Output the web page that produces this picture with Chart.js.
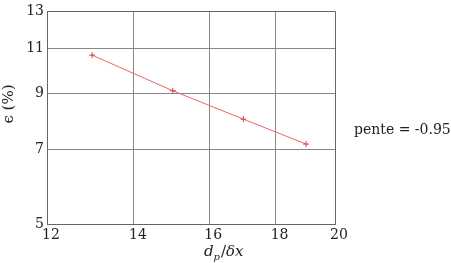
<!DOCTYPE html>
<html>
<head>
<meta charset="utf-8">
<script src="https://cdn.jsdelivr.net/npm/chart.js@4/dist/chart.umd.min.js"></script>
<style>
html,body{margin:0;padding:0;background:#fff;}
#wrap{width:451px;height:263px;position:relative;}
</style>
</head>
<body>
<div id="wrap"><canvas id="c" width="451" height="263"></canvas></div>
<script>
const xValues = [13, 15, 17, 19];
const yValues = [10.68, 9.10, 8.01, 7.16];
const xTicks = [12, 14, 16, 18, 20];
const yTicks = [5, 7, 9, 11, 13];
const xTitle = ['d', 'p', '/', 'δx'];
const yTitle = 'ϵ (%)';
const slopeText = 'pente = -0.95';

const FONT = 'DejaVu Serif';

const textPlugin = {
  id: 'texts',
  afterDraw(chart) {
    const ctx = chart.ctx;
    ctx.save();
    ctx.fillStyle = '#222';
    ctx.font = '14px "DejaVu Serif"';
    ctx.textAlign = 'left';
    ctx.textBaseline = 'alphabetic';
    ctx.fillText(slopeText, 354, 134);
    let x = 204, base = 256;
    ctx.font = 'italic 15px "DejaVu Serif"';
    ctx.fillText(xTitle[0], x, base); x += ctx.measureText(xTitle[0]).width;
    ctx.font = 'italic 10px "DejaVu Serif"';
    ctx.fillText(xTitle[1], x, base + 4); x += ctx.measureText(xTitle[1]).width + 1;
    ctx.font = '15px "DejaVu Serif"';
    ctx.fillText(xTitle[2], x, base); x += ctx.measureText(xTitle[2]).width;
    ctx.font = 'italic 15px "DejaVu Serif"';
    ctx.fillText(xTitle[3], x, base);
    ctx.translate(9, 104);
    ctx.rotate(-Math.PI / 2);
    ctx.font = '15px "DejaVu Serif"';
    ctx.textAlign = 'center';
    ctx.textBaseline = 'middle';
    ctx.fillText(yTitle, 0, 0);
    ctx.restore();
  }
};

new Chart(document.getElementById('c'), {
  type: 'line',
  data: {
    datasets: [{
      data: xValues.map((v, i) => ({x: v, y: yValues[i]})),
      borderColor: '#e06a6a',
      backgroundColor: '#e06a6a',
      borderWidth: 1,
      pointStyle: 'cross',
      pointRadius: 3,
      pointBorderWidth: 1,
      pointBorderColor: '#d04040',
      fill: false,
      tension: 0
    }]
  },
  options: {
    responsive: false,
    animation: false,
    devicePixelRatio: 1,
    layout: {padding: {left: 0, right: 116, top: 10, bottom: 0}},
    plugins: {legend: {display: false}, tooltip: {enabled: false}},
    scales: {
      x: {
        type: 'logarithmic',
        min: 12, max: 20,
        afterBuildTicks: s => { s.ticks = xTicks.map(v => ({value: v})); },
        afterFit: s => { s.height = 39; },
        ticks: {
          callback: v => String(v),
          font: {family: FONT, size: 14},
          color: '#222',
          padding: 3,
          labelOffset: 4,
          maxRotation: 0,
          autoSkip: false
        },
        grid: {
          color: c => (c.tick && c.tick.value === 20) ? '#666' : '#888',
          lineWidth: 1,
          drawTicks: false
        },
        border: {color: '#666', width: 1}
      },
      y: {
        type: 'logarithmic',
        min: 5, max: 13,
        afterBuildTicks: s => { s.ticks = yTicks.map(v => ({value: v})); },
        afterFit: s => { s.width = 47; },
        ticks: {
          callback: v => String(v),
          font: {family: FONT, size: 14},
          color: '#222',
          padding: 3,
          autoSkip: false
        },
        grid: {
          color: c => (c.tick && c.tick.value === 13) ? '#666' : '#888',
          lineWidth: 1,
          drawTicks: false
        },
        border: {color: '#666', width: 1}
      }
    }
  },
  plugins: [textPlugin]
});
</script>
</body>
</html>
